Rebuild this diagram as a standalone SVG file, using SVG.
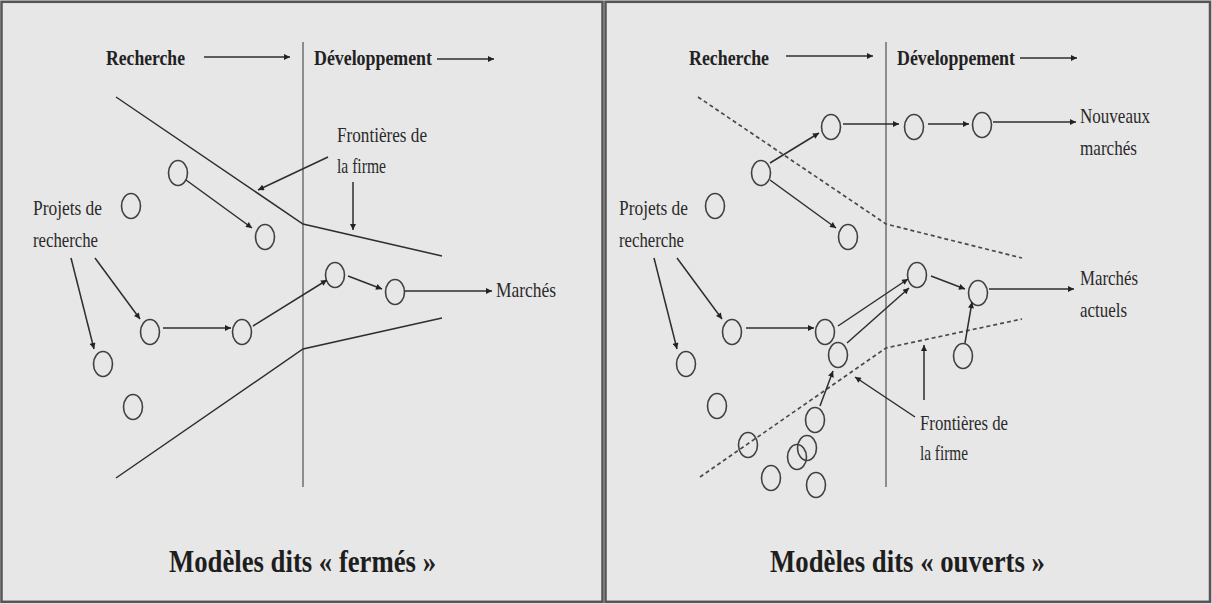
<svg xmlns="http://www.w3.org/2000/svg" width="1212" height="604" viewBox="0 0 1212 604">
<style>
.bg{fill:#e7e7e7}
.frame{fill:none;stroke:#555;stroke-width:2.5}
.axis{fill:none;stroke:#666;stroke-width:1.4}
.line{fill:none;stroke:#2e2e2e;stroke-width:1.5}
.arr{fill:none;stroke:#2e2e2e;stroke-width:1.5;marker-end:url(#ah)}
.dash{fill:none;stroke:#4a4a4a;stroke-width:1.7;stroke-dasharray:4 3}
.node{fill:none;stroke:#404040;stroke-width:1.6}
.lbl{font-family:"Liberation Serif","Times New Roman",serif;font-size:22px;fill:#2a2a2a}
.hdr{font-family:"Liberation Serif","Times New Roman",serif;font-size:22px;font-weight:bold;fill:#222}
.ttl{font-family:"Liberation Serif","Times New Roman",serif;font-size:32px;font-weight:bold;fill:#1e1e1e}
</style>
<defs>
<marker id="ah" viewBox="0 0 10 10" refX="10" refY="5" markerWidth="8" markerHeight="6" orient="auto" markerUnits="userSpaceOnUse">
<path d="M0,0 L10,5 L0,10 z" fill="#222"/>
</marker>
</defs>
<rect class="bg" x="0" y="0" width="1212" height="604"/>
<rect class="frame" x="1.5" y="1.8" width="601" height="600"/>
<rect class="frame" x="605.5" y="1.8" width="604.5" height="600"/>

<!-- LEFT PANEL -->
<g id="left-headers">
<text class="hdr" x="106" y="65" textLength="79" lengthAdjust="spacingAndGlyphs">Recherche</text>
<text class="hdr" x="314" y="65" textLength="118" lengthAdjust="spacingAndGlyphs">Développement</text>
</g>
<g id="left-axis">
<line class="axis" x1="303" y1="42" x2="303" y2="487"/>
</g>
<g id="left-boundaries">
<polyline class="line" points="116,97 303,224 442,256"/>
<polyline class="line" points="116,478 303,349 442,318"/>
</g>
<g id="left-labels">
<text class="lbl" x="337" y="142" textLength="90" lengthAdjust="spacingAndGlyphs">Frontières de</text>
<text class="lbl" x="337" y="173" textLength="49" lengthAdjust="spacingAndGlyphs">la firme</text>
<text class="lbl" x="33" y="215" textLength="69" lengthAdjust="spacingAndGlyphs">Projets de</text>
<text class="lbl" x="33" y="247" textLength="65" lengthAdjust="spacingAndGlyphs">recherche</text>
<text class="lbl" x="496" y="297" textLength="60" lengthAdjust="spacingAndGlyphs">Marchés</text>
</g>
<g id="L-A"><ellipse class="node" cx="178" cy="173" rx="9.5" ry="12.5"/></g>
<g id="L-B"><ellipse class="node" cx="265" cy="237" rx="9.5" ry="12.5"/></g>
<g id="L-C"><ellipse class="node" cx="131" cy="206" rx="9.5" ry="12.5"/></g>
<g id="L-D"><ellipse class="node" cx="103" cy="364" rx="9.5" ry="12.5"/></g>
<g id="L-E"><ellipse class="node" cx="150" cy="332" rx="9.5" ry="12.5"/></g>
<g id="L-F"><ellipse class="node" cx="242" cy="332" rx="9.5" ry="12.5"/></g>
<g id="L-G"><ellipse class="node" cx="335" cy="275" rx="9.5" ry="12.5"/></g>
<g id="L-H"><ellipse class="node" cx="395" cy="292" rx="9.5" ry="12.5"/></g>
<g id="L-I"><ellipse class="node" cx="133" cy="407" rx="9.5" ry="12.5"/></g>
<g id="left-connectors">
<line class="arr" x1="204" y1="57" x2="290" y2="57"/>
<line class="arr" x1="437" y1="59" x2="494" y2="59"/>
<line class="arr" x1="328" y1="157" x2="258" y2="190"/>
<line class="arr" x1="353" y1="182" x2="353" y2="230"/>
<line class="arr" x1="186" y1="180" x2="252" y2="228"/>
<line class="arr" x1="71" y1="258" x2="94" y2="349"/>
<line class="arr" x1="95" y1="258" x2="140" y2="319"/>
<line class="arr" x1="163" y1="328" x2="231" y2="328"/>
<line class="arr" x1="253" y1="326" x2="327" y2="280"/>
<line class="arr" x1="348" y1="276" x2="382" y2="289"/>
<line class="arr" x1="405" y1="291" x2="492" y2="291"/>
</g>
<g id="left-title">
<text class="ttl" x="169" y="572" textLength="267" lengthAdjust="spacingAndGlyphs">Modèles dits « fermés »</text>
</g>

<!-- RIGHT PANEL -->
<g id="right-headers">
<text class="hdr" x="689" y="65" textLength="80" lengthAdjust="spacingAndGlyphs">Recherche</text>
<text class="hdr" x="897" y="65" textLength="118" lengthAdjust="spacingAndGlyphs">Développement</text>
</g>
<g id="right-axis">
<line class="axis" x1="886" y1="42" x2="886" y2="487"/>
</g>
<g id="right-boundaries">
<polyline class="dash" points="698,97 886,224 1022,258"/>
<polyline class="dash" points="700,477 886,348 1022,319"/>
</g>
<g id="right-labels">
<text class="lbl" x="1080" y="123" textLength="70" lengthAdjust="spacingAndGlyphs">Nouveaux</text>
<text class="lbl" x="1080" y="155" textLength="57" lengthAdjust="spacingAndGlyphs">marchés</text>
<text class="lbl" x="1080" y="285" textLength="58" lengthAdjust="spacingAndGlyphs">Marchés</text>
<text class="lbl" x="1080" y="317" textLength="47" lengthAdjust="spacingAndGlyphs">actuels</text>
<text class="lbl" x="619" y="215" textLength="69" lengthAdjust="spacingAndGlyphs">Projets de</text>
<text class="lbl" x="619" y="247" textLength="65" lengthAdjust="spacingAndGlyphs">recherche</text>
<text class="lbl" x="920" y="430" textLength="88" lengthAdjust="spacingAndGlyphs">Frontières de</text>
<text class="lbl" x="920" y="460" textLength="48" lengthAdjust="spacingAndGlyphs">la firme</text>
</g>
<g id="R-N1"><ellipse class="node" cx="761" cy="173" rx="9.5" ry="12.5"/></g>
<g id="R-N2"><ellipse class="node" cx="831" cy="127" rx="9.5" ry="12.5"/></g>
<g id="R-N3"><ellipse class="node" cx="848" cy="237" rx="9.5" ry="12.5"/></g>
<g id="R-N4"><ellipse class="node" cx="914" cy="127" rx="9.5" ry="12.5"/></g>
<g id="R-N5"><ellipse class="node" cx="982" cy="125" rx="9.5" ry="12.5"/></g>
<g id="R-N6"><ellipse class="node" cx="715" cy="206" rx="9.5" ry="12.5"/></g>
<g id="R-N7"><ellipse class="node" cx="686" cy="364" rx="9.5" ry="12.5"/></g>
<g id="R-N8"><ellipse class="node" cx="732" cy="332" rx="9.5" ry="12.5"/></g>
<g id="R-N9"><ellipse class="node" cx="825" cy="332" rx="9.5" ry="12.5"/></g>
<g id="R-N10"><ellipse class="node" cx="917" cy="275" rx="9.5" ry="12.5"/></g>
<g id="R-N11"><ellipse class="node" cx="838" cy="355" rx="9.5" ry="12.5"/></g>
<g id="R-N12"><ellipse class="node" cx="978" cy="293" rx="9.5" ry="12.5"/></g>
<g id="R-N13"><ellipse class="node" cx="963" cy="356" rx="9.5" ry="12.5"/></g>
<g id="R-N14"><ellipse class="node" cx="717" cy="406" rx="9.5" ry="12.5"/></g>
<g id="R-N15"><ellipse class="node" cx="748" cy="445" rx="9.5" ry="12.5"/></g>
<g id="R-N16"><ellipse class="node" cx="771" cy="478" rx="9.5" ry="12.5"/></g>
<g id="R-N17"><ellipse class="node" cx="797" cy="457" rx="9.5" ry="12.5"/></g>
<g id="R-N18"><ellipse class="node" cx="807" cy="448" rx="9.5" ry="12.5"/></g>
<g id="R-N19"><ellipse class="node" cx="815" cy="420" rx="9.5" ry="12.5"/></g>
<g id="R-N20"><ellipse class="node" cx="816" cy="485" rx="9.5" ry="12.5"/></g>
<g id="right-connectors">
<line class="arr" x1="786" y1="56" x2="873" y2="56"/>
<line class="arr" x1="1020" y1="58" x2="1077" y2="58"/>
<line class="arr" x1="770" y1="163" x2="819" y2="133"/>
<line class="arr" x1="770" y1="180" x2="836" y2="228"/>
<line class="arr" x1="843" y1="124" x2="899" y2="124"/>
<line class="arr" x1="928" y1="124" x2="969" y2="124"/>
<line class="arr" x1="993" y1="122" x2="1076" y2="122"/>
<line class="arr" x1="654" y1="258" x2="677" y2="349"/>
<line class="arr" x1="677" y1="258" x2="722" y2="319"/>
<line class="arr" x1="746" y1="328" x2="814" y2="328"/>
<line class="arr" x1="838" y1="326" x2="908" y2="279"/>
<line class="arr" x1="847" y1="343" x2="909" y2="288"/>
<line class="arr" x1="931" y1="276" x2="965" y2="289"/>
<line class="arr" x1="989" y1="289" x2="1074" y2="289"/>
<line class="arr" x1="965" y1="343" x2="972" y2="302"/>
<line class="arr" x1="820" y1="406" x2="833" y2="371"/>
<line class="arr" x1="915" y1="417" x2="855" y2="377"/>
<line class="arr" x1="924" y1="400" x2="924" y2="345"/>
</g>
<g id="right-title">
<text class="ttl" x="770" y="572" textLength="275" lengthAdjust="spacingAndGlyphs">Modèles dits « ouverts »</text>
</g>
</svg>
